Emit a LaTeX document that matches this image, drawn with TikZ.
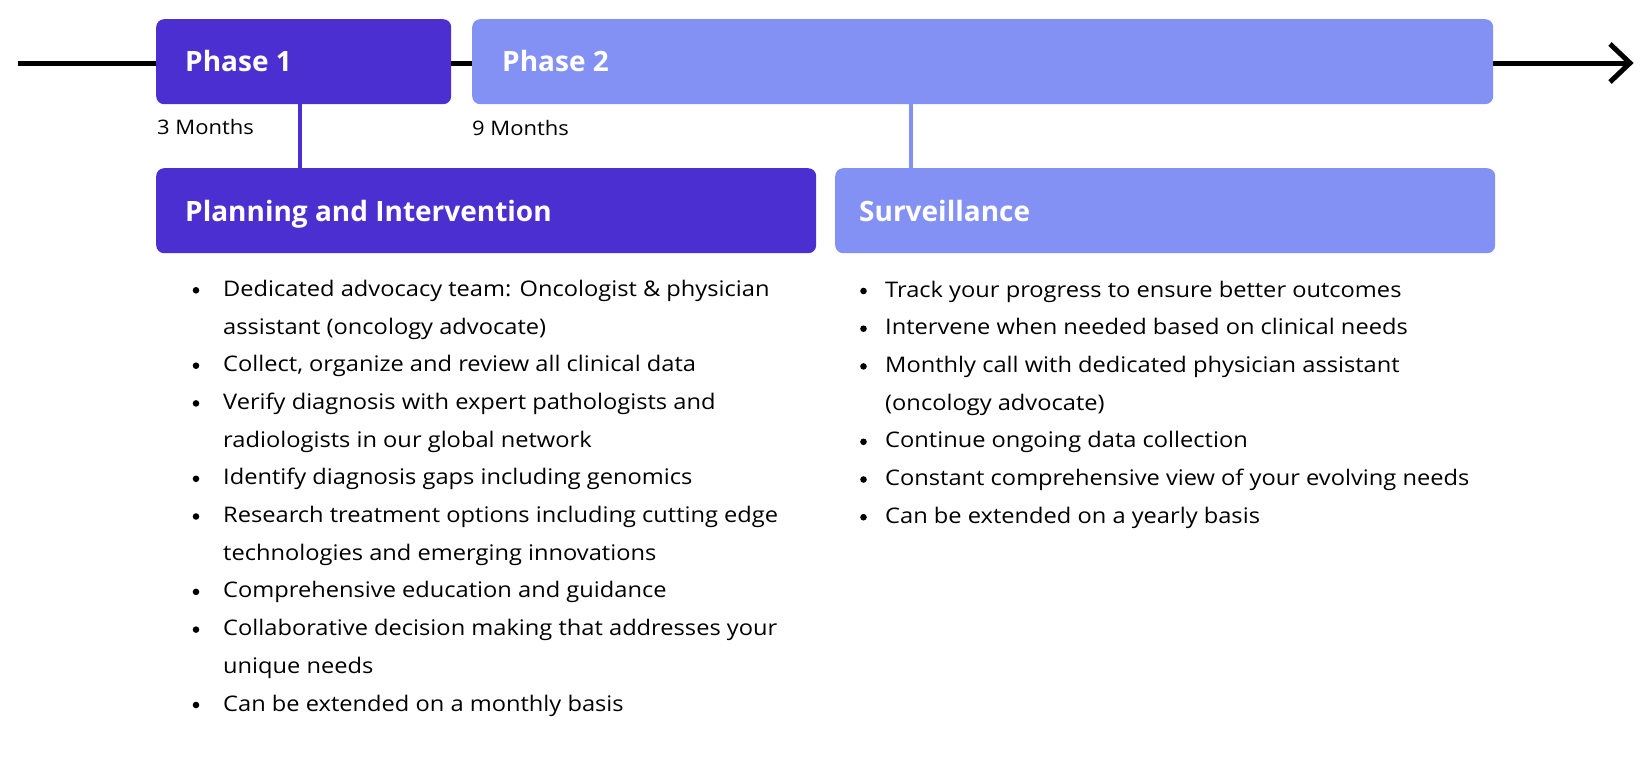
\documentclass[tikz,border=0pt]{standalone}
\usepackage{fontspec}
\setmainfont{Open Sans}
\newfontfamily\bodyfont[FakeStretch=1.1]{Open Sans}
\definecolor{pdark}{HTML}{4B2FD1}
\definecolor{plight}{HTML}{8391F5}
\begin{document}
\begin{tikzpicture}[x=1pt,y=-1pt,
  box/.style={rounded corners=8pt, draw=none, anchor=north west, minimum height=85pt, inner sep=0},
  head/.style={anchor=base west, text=white, font=\fontsize{28}{32}\selectfont\bfseries, inner sep=0},
  months/.style={anchor=base west, font=\bodyfont\fontsize{20}{24}\selectfont, inner sep=0},
  item/.style={anchor=base west, align=left, inner sep=0, font=\bodyfont\fontsize{21.5}{37.7}\selectfont},
  conn/.style={line width=4pt},
  tl/.style={line width=5pt, black},
]
\useasboundingbox (0,0) rectangle (1650,780);
% timeline
\coordinate (ts) at (18,63);
\coordinate (te) at (1630,63);
\coordinate (ta) at (1610,44);
\coordinate (tb) at (1610,82);
\draw[tl] (ts) -- ([xshift=-3pt]te);
\draw[tl, miter limit=10] (ta) -- (te) -- (tb);
% phase boxes
\node[box, fill=pdark, minimum width=295pt] (p1) at (156,19) {};
\node[box, fill=plight, minimum width=1021pt] (p2) at (472,19) {};
\node[head] (p1t) at (185,71) {Phase 1};
\node[head] (p2t) at (502,71) {Phase 2};
\node[months] (m1) at (157,134) {3 Months};
\node[months] (m2) at (472,135) {9 Months};
% detail boxes
\node[box, fill=pdark, minimum width=660pt] (plan) at (156,168) {};
\node[box, fill=plight, minimum width=660pt] (surv) at (835,168) {};
\node[head] (plant) at (185,221) {Planning and Intervention};
\node[head] (survt) at (859,221) {Surveillance};
% connectors
\draw[conn, pdark] ([xshift=144pt]p1.south west) -- ([xshift=144pt]plan.north west);
\draw[conn, plight] ([xshift=439pt]p2.south west) -- ([xshift=76pt]surv.north west);
% left items (anchored at the baseline of their last line)
\node[item] (l1) at (223,334) {Dedicated advocacy team: Oncologist \& physician\\assistant (oncology advocate)};
\node[item] (l2) at (223,371.7) {Collect, organize and review all clinical data};
\node[item] (l3) at (223,447.1) {Verify diagnosis with expert pathologists and\\radiologists in our global network};
\node[item] (l4) at (223,484.8) {Identify diagnosis gaps including genomics};
\node[item] (l5) at (223,560.2) {Research treatment options including cutting edge\\technologies and emerging innovations};
\node[item] (l6) at (223,597.9) {Comprehensive education and guidance};
\node[item] (l7) at (223,673.3) {Collaborative decision making that addresses your\\unique needs};
\node[item] (l8) at (223,711) {Can be extended on a monthly basis};
\foreach \n/\s in {l1/43.7,l2/6,l3/43.7,l4/6,l5/43.7,l6/6,l7/43.7,l8/6}
  \fill ([xshift=-27pt,yshift=\s pt]\n.base west) circle (3.3pt);
% right items
\node[item] (r1) at (885,297) {Track your progress to ensure better outcomes};
\node[item] (r2) at (885,334.7) {Intervene when needed based on clinical needs};
\node[item] (r3) at (885,410.1) {Monthly call with dedicated physician assistant\\(oncology advocate)};
\node[item] (r4) at (885,447.8) {Continue ongoing data collection};
\node[item] (r5) at (885,485.5) {Constant comprehensive view of your evolving needs};
\node[item] (r6) at (885,523.2) {Can be extended on a yearly basis};
\foreach \n/\s in {r1/6,r2/6,r3/43.7,r4/6,r5/6,r6/6}
  \fill ([xshift=-21.5pt,yshift=\s pt]\n.base west) circle (3.3pt);
\end{tikzpicture}
\end{document}
